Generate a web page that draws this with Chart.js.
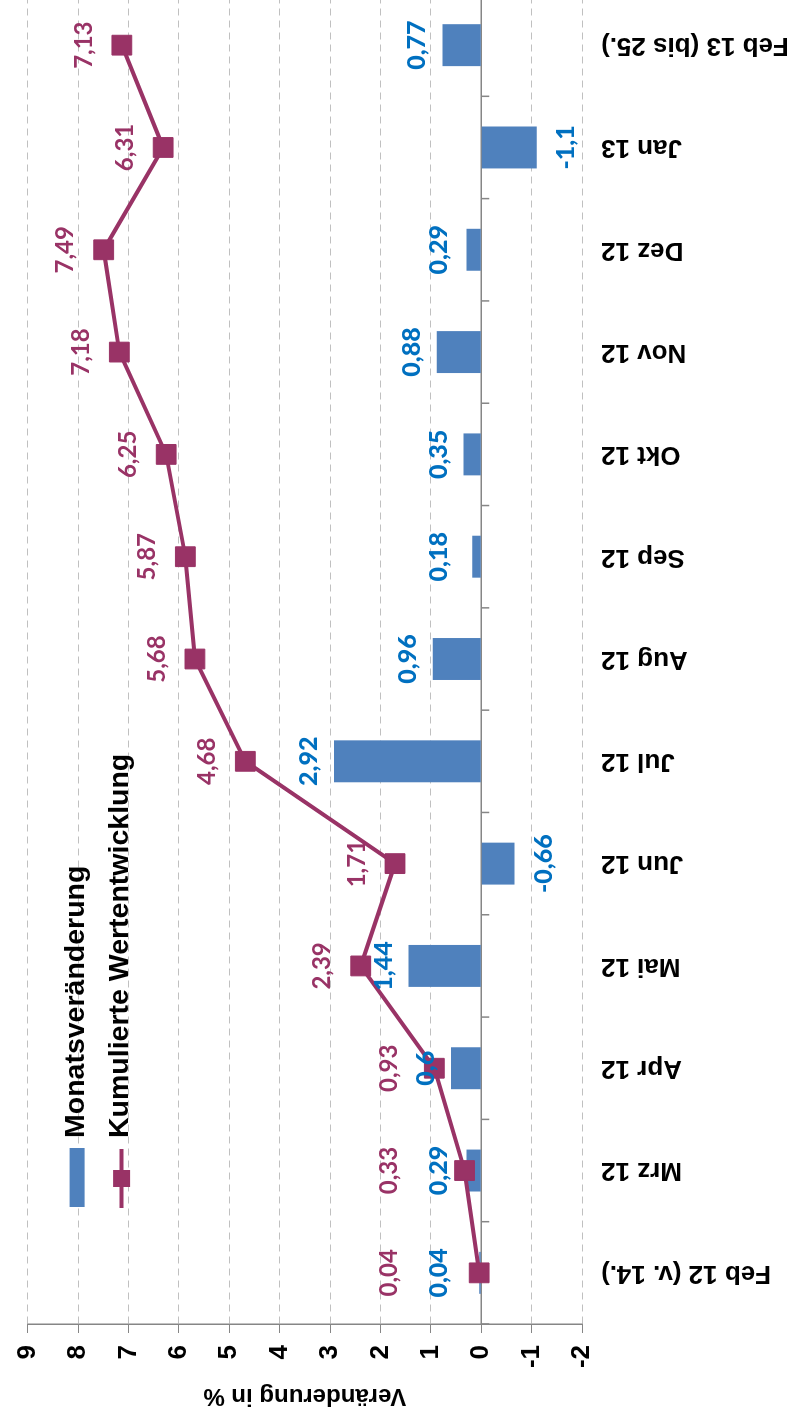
<!DOCTYPE html>
<html lang="de">
<head>
<meta charset="utf-8">
<title>Monatsveränderung und kumulierte Wertentwicklung</title>
<script src="https://cdn.jsdelivr.net/npm/chart.js@4.4.1/dist/chart.umd.min.js"></script>
<style>
  html, body { margin: 0; padding: 0; background: #fff; }
  #page { position: relative; width: 792px; height: 1420px; overflow: hidden; }
  /* the chart is laid out landscape and then turned a quarter turn */
  #turn {
    position: absolute; left: 0; top: 0;
    width: 1420px; height: 792px; overflow: hidden;
    transform-origin: 0 0;
    transform: translate(0, 1420px) rotate(-90deg);
  }
  canvas { display: block; }
</style>
</head>
<body>
<div id="page"><div id="turn"><canvas id="chart" width="1442" height="792"></canvas></div></div>
<script>
const categories = ['Feb 12 (v. 14.)', 'Mrz 12', 'Apr 12', 'Mai 12', 'Jun 12', 'Jul 12',
  'Aug 12', 'Sep 12', 'Okt 12', 'Nov 12', 'Dez 12', 'Jan 13', 'Feb 13 (bis 25.)'];
const monthlyChange = [0.04, 0.29, 0.6, 1.44, -0.66, 2.92, 0.96, 0.18, 0.35, 0.88, 0.29, -1.1, 0.77];
const cumulative = [0.04, 0.33, 0.93, 2.39, 1.71, 4.68, 5.68, 5.87, 6.25, 7.18, 7.49, 6.31, 7.13];
const valueTicks = [-2, -1, 0, 1, 2, 3, 4, 5, 6, 7, 8, 9];

const BAR_BLUE = '#4F81BD';
const LABEL_BLUE = '#0070C0';
const PLUM = '#993366';
const AXIS_GREY = '#868686';
const GRID_GREY = '#C0C0C0';

Chart.defaults.font.family = '"Liberation Sans", Arial, sans-serif';

const fmt = v => v.toLocaleString('de-DE');

// solid zero line with short marks between the categories
const zeroAxis = {
  id: 'zeroAxis',
  beforeDatasetsDraw(chart) {
    const { ctx, chartArea, scales: { x, y } } = chart;
    const y0 = y.getPixelForValue(0);
    const half = (x.getPixelForValue(1) - x.getPixelForValue(0)) / 2;
    ctx.save();
    ctx.strokeStyle = AXIS_GREY;
    ctx.lineWidth = 1.5;
    ctx.beginPath();
    ctx.moveTo(chartArea.left, y0);
    ctx.lineTo(chartArea.right, y0);
    for (let i = 0; i <= categories.length; i++) {
      const px = x.getPixelForValue(i) - half;
      ctx.moveTo(px, y0);
      ctx.lineTo(px, y0 + 8);
    }
    ctx.stroke();
    ctx.restore();
  },
};

// value labels for bars and line points
const valueLabels = {
  id: 'valueLabels',
  afterDatasetsDraw(chart) {
    const { ctx, scales: { x, y } } = chart;
    const y0 = y.getPixelForValue(0);
    ctx.save();
    ctx.textAlign = 'center';
    ctx.textBaseline = 'middle';

    ctx.font = 'bold 24px Lato';
    ctx.fillStyle = PLUM;
    cumulative.forEach((v, i) => {
      const cy = Math.min(y.getPixelForValue(v) - 38, y0 - 92);
      ctx.fillText(fmt(v), x.getPixelForValue(i), cy);
    });

    ctx.font = '900 25px Lato';
    ctx.fillStyle = LABEL_BLUE;
    monthlyChange.forEach((v, i) => {
      const end = y.getPixelForValue(v);
      const cy = v >= 0 ? Math.min(end - 25, y0 - 42) : end + 29;
      ctx.fillText(fmt(v), x.getPixelForValue(i), cy);
    });
    ctx.restore();
  },
};

// legend sits inside the plot, upper left
const legendBox = {
  id: 'legendBox',
  afterDraw(chart) {
    const { ctx, chartArea } = chart;
    const lineSet = chart.data.datasets[0];
    const barSet = chart.data.datasets[1];
    const lx = chartArea.left + 116;
    const ly = chartArea.top;
    ctx.save();
    ctx.fillStyle = BAR_BLUE;
    ctx.fillRect(lx + 1, ly + 42, 59, 15);

    ctx.strokeStyle = PLUM;
    ctx.lineWidth = 4;
    ctx.beginPath();
    ctx.moveTo(lx, ly + 94);
    ctx.lineTo(lx + 59, ly + 94);
    ctx.stroke();
    ctx.fillStyle = PLUM;
    ctx.fillRect(lx + 21, ly + 85.5, 17, 17);

    ctx.fillStyle = '#000';
    ctx.font = 'bold 28.5px "Liberation Sans", Arial, sans-serif';
    ctx.textAlign = 'left';
    ctx.textBaseline = 'middle';
    ctx.fillText(barSet.label, lx + 70, ly + 49);
    ctx.fillText(lineSet.label, lx + 70, ly + 93);
    ctx.restore();
  },
};

new Chart(document.getElementById('chart'), {
  type: 'bar',
  data: {
    labels: categories,
    datasets: [
      {
        type: 'line',
        label: 'Kumulierte Wertentwicklung',
        data: cumulative,
        order: 0,
        borderColor: PLUM,
        backgroundColor: PLUM,
        borderWidth: 4,
        tension: 0,
        fill: false,
        pointStyle: 'rect',
        pointRadius: 14,
        pointBorderWidth: 1,
        pointBackgroundColor: PLUM,
        pointBorderColor: PLUM,
      },
      {
        type: 'bar',
        label: 'Monatsveränderung',
        data: monthlyChange,
        order: 1,
        backgroundColor: BAR_BLUE,
        categoryPercentage: 1,
        barPercentage: 0.41,
      },
    ],
  },
  options: {
    responsive: false,
    animation: false,
    devicePixelRatio: 1,
    layout: { padding: { top: 23, right: 16, bottom: 0, left: 0 } },
    plugins: {
      legend: { display: false },
      tooltip: { enabled: false },
    },
    scales: {
      x: {
        grid: { display: false, drawTicks: false },
        border: { display: false },
        ticks: {
          autoSkip: false,
          minRotation: 90,
          maxRotation: 90,
          padding: 19,
          color: '#000',
          font: { size: 26, weight: 'bold' },
        },
        afterFit: s => { s.height = 210; },
      },
      y: {
        min: valueTicks[0],
        max: valueTicks[valueTicks.length - 1],
        afterBuildTicks: s => { s.ticks = valueTicks.map(v => ({ value: v })); },
        grid: { color: GRID_GREY, lineWidth: 1, tickLength: 9, tickColor: AXIS_GREY },
        border: { display: true, color: AXIS_GREY, width: 1.5, dash: [7, 5] },
        ticks: {
          padding: 12,
          color: '#000',
          font: { size: 26, weight: 'bold' },
          callback: v => String(v),
        },
        title: {
          display: true,
          text: 'Veränderung in %',
          color: '#000',
          font: { size: 24, weight: 'bold' },
          padding: { top: 10, bottom: 0 },
        },
        afterFit: s => { s.width = 96; },
      },
    },
  },
  plugins: [zeroAxis, valueLabels, legendBox],
});
</script>
</body>
</html>
